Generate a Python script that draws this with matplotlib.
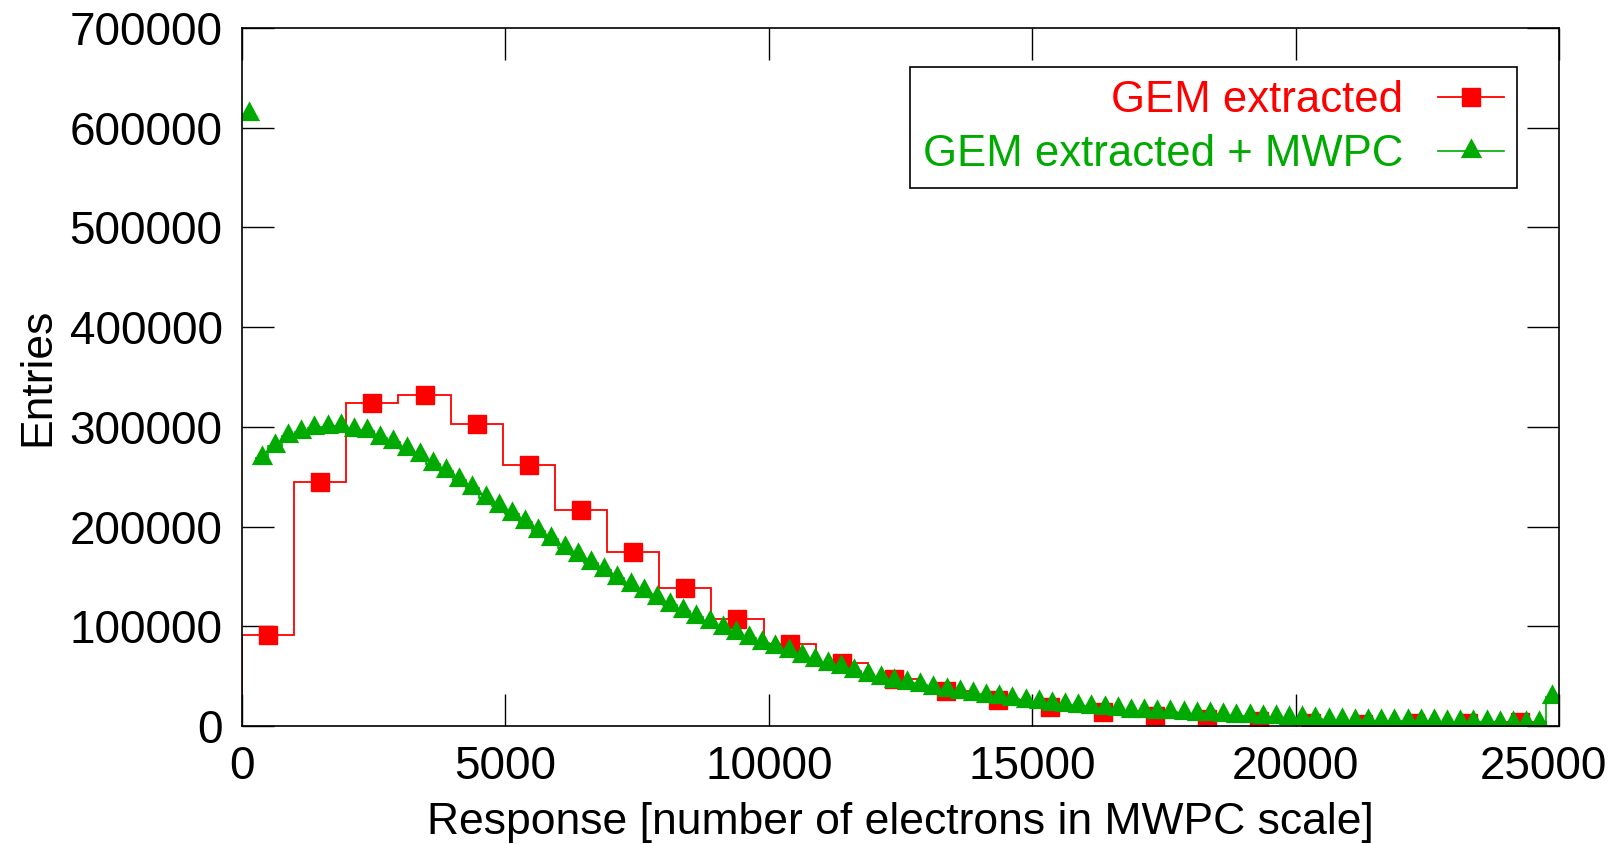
import matplotlib
matplotlib.use('Agg')
import matplotlib.pyplot as plt
import matplotlib.transforms as mtransforms
from matplotlib.lines import Line2D
import numpy as np

# ---- Data ----
# GEM extracted: 25 bins of width 990
red_width = 990
red_vals = [91000, 245000, 324000, 332000, 303000, 262000, 217000, 175000,
            138000, 107000, 82000, 63000, 47000, 35000, 26000, 19000,
            14000, 10000, 7000, 5000, 3000, 2000, 3000, 3000, 4000]

# GEM extracted + MWPC: 100 bins of width 250
green_width = 250
green_vals = [614000, 269000, 281000, 291000, 295000, 299000, 300000, 301000,
              297000, 296000, 289000, 285000, 278000, 272000, 263000, 256000,
              247000, 239000, 229000, 221000, 213000, 205000, 196000, 188000,
              179000, 171000, 163000, 156000, 148000, 141000, 135000, 128000,
              121000, 115000, 109000, 104000, 98000, 93000, 88000, 83000,
              79000, 75000, 70000, 66000, 62000, 59000, 55000, 51000,
              48000, 45000, 43000, 41000, 38000, 36000, 34000, 32000,
              30000, 29000, 27000, 25000, 24000, 22000, 21000, 20000,
              19000, 18000, 17000, 15500, 15000, 14500, 14000, 13000,
              12500, 12000, 11500, 10500, 9800, 9200, 8600, 8100,
              7700, 7000, 6300, 5800, 5500, 5300, 5200, 5000,
              4900, 4800, 4700, 4400, 4200, 3900, 3700, 3400,
              3200, 2900, 2700, 28700]

red_label = 'GEM extracted'
green_label = 'GEM extracted + MWPC'
xticks = [0, 5000, 10000, 15000, 20000, 25000]
yticks = [0, 100000, 200000, 300000, 400000, 500000, 600000, 700000]

RED = '#ff0000'
GREEN = '#00aa00'

red_edges = np.arange(len(red_vals) + 1) * red_width
red_centers = (red_edges[:-1] + red_edges[1:]) / 2
green_edges = np.arange(len(green_vals) + 1) * green_width
green_centers = (green_edges[:-1] + green_edges[1:]) / 2

# triangle centred on its centroid (like gnuplot)
tri = [(-1, -0.62), (1, -0.62), (0, 1.24), (-1, -0.62)]
TRI_MS = 19
SQ_MS = 13

plt.rcParams['font.family'] = ['Liberation Sans', 'DejaVu Sans']
plt.rc('font', size=32)
plt.rc('xtick', labelsize=33)
plt.rc('ytick', labelsize=33)
plt.rc('legend', fontsize=31.5)

fig = plt.figure(figsize=(16.13, 8.44), dpi=100)
ax = fig.add_axes([242/1613, 1-726/844, (1559-242)/1613, (726-28)/844])

ax.stairs(red_vals, red_edges, baseline=0, color=RED, linewidth=1.3)
ax.plot(red_centers, red_vals, linestyle='none', marker='s', markersize=SQ_MS,
        color=RED)

ax.stairs(green_vals[:1], green_edges[:2], baseline=None, color=GREEN, linewidth=1.2)
ax.stairs(green_vals[1:], green_edges[1:], baseline=None, color=GREEN, linewidth=1.2)
ax.plot(green_centers, green_vals, linestyle='none', marker=tri, markersize=TRI_MS,
        color=GREEN, markeredgewidth=0)

ax.set_xlim(0, 25000)
ax.set_ylim(0, 700000)
ax.set_xticks(xticks)
ax.set_yticks(yticks)
ax.tick_params(direction='in', length=23, width=1.0, top=True, right=True, pad=14)
for s in ax.spines.values():
    s.set_linewidth(1.2)

# shift last x tick label left so it stays inside the figure
lbl = ax.get_xticklabels()[-1]
lbl.set_transform(lbl.get_transform() + mtransforms.ScaledTranslation(-0.16, 0, fig.dpi_scale_trans))

ax.set_xlabel('Response [number of electrons in MWPC scale]', labelpad=9)
ax.set_ylabel('Entries', labelpad=8)

handles = [Line2D([], [], color=RED, marker='s', markersize=SQ_MS, linewidth=1.3),
           Line2D([], [], color=GREEN, marker=tri, markersize=TRI_MS, linewidth=1.2,
                  markeredgewidth=0)]
leg = ax.legend(handles, [red_label, green_label], loc='upper right',
                bbox_to_anchor=(0.968, 0.944), borderaxespad=0, markerfirst=False,
                labelcolor='linecolor', fancybox=False, edgecolor='black',
                framealpha=1, handlelength=1.5, handletextpad=0.8,
                borderpad=0.3, labelspacing=0.3)
leg.get_frame().set_linewidth(1.2)

fig.savefig('out.png', dpi=100)
